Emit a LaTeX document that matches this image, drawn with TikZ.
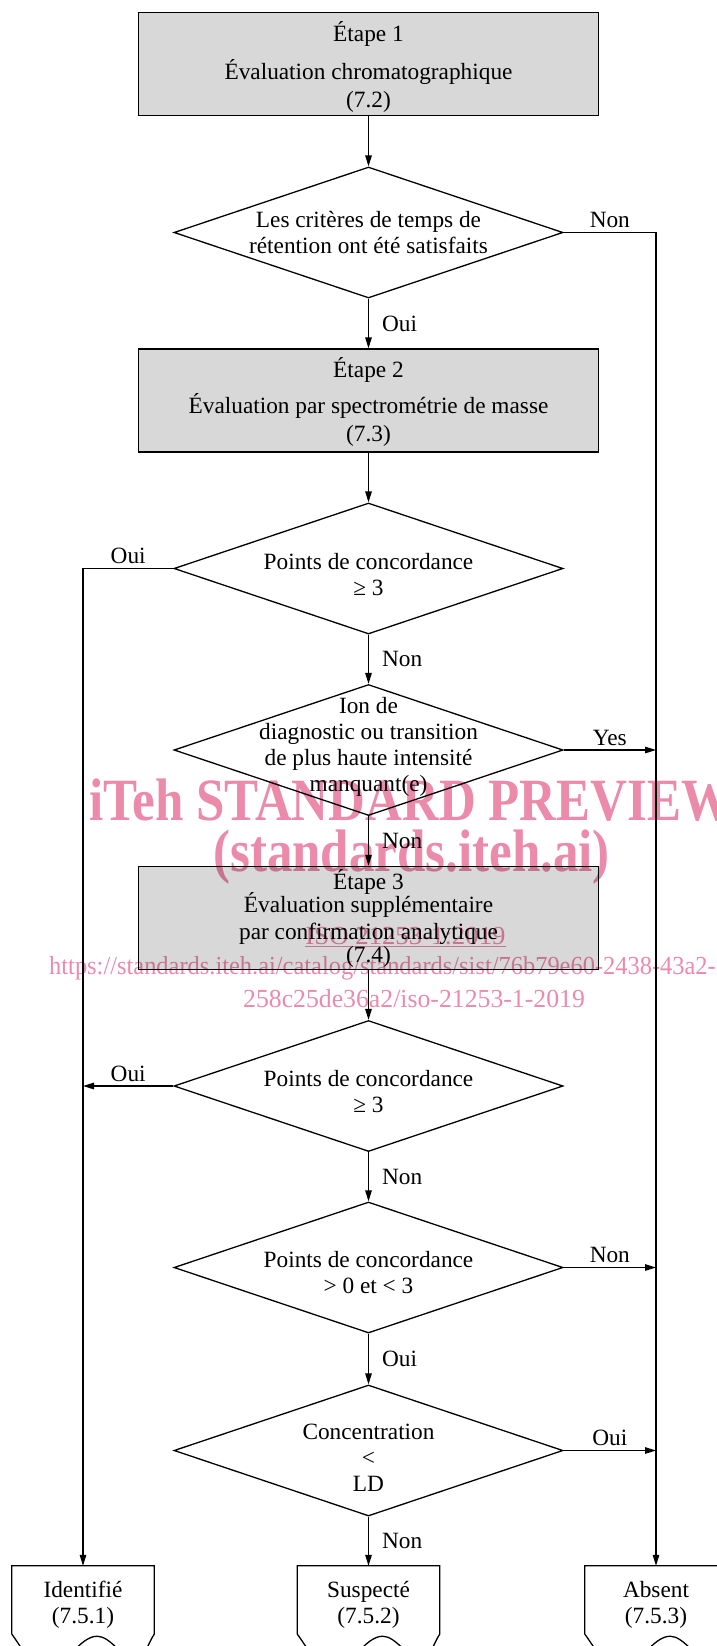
\documentclass[tikz,border=0pt]{standalone}
\usepackage{fontspec}
\setmainfont{Liberation Serif}
\usetikzlibrary{shapes.geometric,arrows.meta,positioning,calc}
\definecolor{boxgray}{RGB}{216,216,216}
\definecolor{wmpink}{RGB}{236,138,170}
\newcommand{\mainfs}{\fontsize{23.3}{26}\selectfont}
\newcommand{\wmbig}{\fontsize{60}{66}\selectfont\bfseries}
\newcommand{\wmsmall}{\fontsize{26}{30}\selectfont}
\newcommand{\topgap}[1]{\rule{0pt}{#1}}

\begin{document}
\begin{tikzpicture}[x=1pt, y=-1pt,
    stepbox/.style={draw, line width=1.3pt, fill=boxgray, minimum width=460pt, minimum height=103pt, inner sep=0pt, align=center, font=\mainfs},
    decision/.style={draw, diamond, line width=1.3pt, minimum width=389pt, minimum height=131pt, inner sep=0pt},
    dtext/.style={align=center, font=\mainfs, inner sep=0pt},
    outcome/.style={minimum width=142pt, minimum height=68pt, inner sep=0pt, align=center, font=\mainfs},
    lbl/.style={font=\mainfs, inner sep=4pt},
    flow/.style={line width=1.3pt, -{Triangle[length=11pt,width=6.5pt]}},
    wm/.style={text=wmpink, inner sep=0pt}]

    \useasboundingbox (0,0) rectangle (717,1646);
    \clip (0,0) rectangle (717,1646);

    % Steps
    \node[stepbox] (etape1) at (368.5,64) {\topgap{26.5pt}Étape 1\\[12pt]Évaluation chromatographique\\[2pt](7.2)};
    \node[stepbox] (etape2) at (368.5,400.5) {\topgap{23.5pt}Étape 2\\[10pt]Évaluation par spectrométrie de masse\\[2pt](7.3)};
    \node[stepbox] (etape3) at (368.5,918) {Étape 3\\[-3pt]Évaluation supplémentaire\\[1pt]par confirmation analytique\\[-3pt](7.4)};

    % Decisions
    \node[decision] (crit1) at (368.5,232.5) {};
    \node[dtext] (crit1txt) at (crit1) {Les critères de temps de\\rétention ont été satisfaits};
    \node[decision] (conc1) at (368.5,568.5) {};
    \node[dtext, yshift=-6pt] (conc1txt) at (conc1) {Points de concordance\\≥ 3};
    \node[decision] (ion) at (368.5,750) {};
    \node[dtext, yshift=3pt] (iontxt) at (ion) {Ion de\\diagnostic ou transition\\de plus haute intensité\\manquant(e)};
    \node[decision] (conc2) at (368.5,1086) {};
    \node[dtext, yshift=-6pt] (conc2txt) at (conc2) {Points de concordance\\≥ 3};
    \node[decision] (conc3) at (368.5,1267.5) {};
    \node[dtext, yshift=-5pt] (conc3txt) at (conc3) {Points de concordance\\> 0 et < 3};
    \node[decision] (ld) at (368.5,1450.5) {};
    \node[dtext, yshift=-7pt] (ldtxt) at (ld) {Concentration\\<\\LD};

    % Outcomes
    \node[outcome] (ident) at (83,1600) {\topgap{25pt}Identifié\\(7.5.1)};
    \node[outcome] (susp) at (368.5,1600) {\topgap{25pt}Suspecté\\(7.5.2)};
    \node[outcome] (absent) at (656,1600) {\topgap{25pt}Absent\\(7.5.3)};
    \foreach \n in {ident,susp,absent}
        \draw[line width=1.3pt] (\n.south west) -- (\n.north west) -- (\n.north east) -- (\n.south east)
            .. controls +(-5,7) and +(6,0) .. ++(-17,26)
            .. controls +(-14,0) and +(14,0) .. ++(-40,-24)
            .. controls +(-18,0) and +(18,0) .. ++(-50,32)
            .. controls +(-16,0) and +(8,10) .. (\n.south west);

    % Flow
    \draw[flow] (etape1) -- (crit1);
    \draw[flow] (crit1.east) -| node[lbl, above, pos=0.25] (lnon1) {Non} (absent.north);
    \draw[flow] (crit1) -- node[lbl, right, xshift=9pt] (loui1) {Oui} (etape2);
    \draw[flow] (etape2) -- (conc1);
    \draw[flow] (conc1.west) -| node[lbl, above, pos=0.25] (loui2) {Oui} (ident.north);
    \draw[flow] (conc1) -- node[lbl, right, xshift=9pt] (lnon2) {Non} (ion);
    \draw[flow] (ion.east) -- node[lbl, above] (lyes) {Yes} (ion.east -| absent.north);
    \draw[flow] (ion) -- node[lbl, right, xshift=9pt] (lnon3) {Non} (etape3);
    \draw[flow] (etape3) -- (conc2);
    \draw[flow] (conc2.west) -- node[lbl, above] (loui3) {Oui} (conc2.west -| ident.north);
    \draw[flow] (conc2) -- node[lbl, right, xshift=9pt] (lnon4) {Non} (conc3);
    \draw[flow] (conc3.east) -- node[lbl, above] (lnon5) {Non} (conc3.east -| absent.north);
    \draw[flow] (conc3) -- node[lbl, right, xshift=9pt] (loui4) {Oui} (ld);
    \draw[flow] (ld.east) -- node[lbl, above] (loui5) {Oui} (ld.east -| absent.north);
    \draw[flow] (ld) -- node[lbl, right, xshift=9pt] (lnon6) {Non} (susp);

    % Watermark
    \begin{scope}[blend mode=multiply]
        \node[wm, anchor=west] (wm1) at (89,800) {\wmbig\scalebox{0.85}[1]{iTeh STANDARD PREVIEW}};
        \node[wm, anchor=west] (wm2) at (213,857) {\wmbig\scalebox{0.85}[1]{(standards.iteh.ai)}};
        \node[wm] (wm3) at (405.5,937) {\wmsmall\scalebox{1.03}[1]{\underline{ISO 21253-1:2019}}};
        \node[wm, anchor=west] (wm4) at (49,968) {\wmsmall\scalebox{0.94}[1]{https://standards.iteh.ai/catalog/standards/sist/76b79e60-2438-43a2-}};
        \node[wm] (wm5) at (414,999) {\wmsmall\scalebox{0.99}[1]{258c25de36a2/iso-21253-1-2019}};
    \end{scope}
\end{tikzpicture}
\end{document}
